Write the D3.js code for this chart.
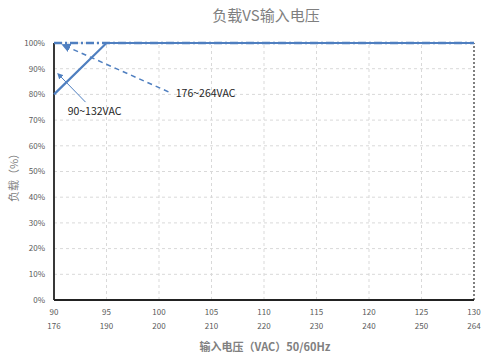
<!DOCTYPE html>
<html>
<head>
<meta charset="utf-8">
<script src="https://cdn.jsdelivr.net/npm/d3@7"></script>
<style>
  body { margin: 0; background: #fff; }
  text { font-family: "Microsoft YaHei", "Noto Sans CJK SC", "DejaVu Sans", sans-serif; }
</style>
</head>
<body>
<div id="chart"></div>
<script>
// tick labels
const xTicksLow = [90, 95, 100, 105, 110, 115, 120, 125, 130];
const xTicksHigh = [176, 190, 200, 210, 220, 230, 240, 250, 264];
const yTicks = [0, 10, 20, 30, 40, 50, 60, 70, 80, 90, 100];

// 90~132VAC series (primary axis)
const lowVolt = [90, 95, 130];
const lowLoad = [80, 100, 100];

// 176~264VAC series (secondary axis)
const highVolt = [176, 264];
const highLoad = [100, 100];

// annotation arrows [x0, y0, x1, y1] on primary axis
const lowArrow = [93.0, 77.0, 90.5, 87.5];
const highArrow = [100.9, 81, 91.1, 98.8];

const width = 489, height = 359;
const margin = {left: 54, right: 15, top: 43, bottom: 59};
const blue = '#4f7fc0';
const grey = '#595959';

const svg = d3.select('#chart').append('svg')
  .attr('width', width)
  .attr('height', height);

const x = d3.scaleLinear().domain([90, 130]).range([margin.left, width - margin.right]);
const x2 = d3.scaleLinear().domain(xTicksHigh).range(xTicksLow.map(x));
const y = d3.scaleLinear().domain([0, 100]).range([height - margin.bottom, margin.top]);

svg.append('defs').append('marker')
  .attr('id', 'arrow')
  .attr('viewBox', '0 0 10 10')
  .attr('refX', 5).attr('refY', 5)
  .attr('markerWidth', 6).attr('markerHeight', 6)
  .attr('orient', 'auto')
  .append('path')
  .attr('d', 'M0,0 L10,5 L0,10 z')
  .attr('fill', blue);

// grid
svg.append('g').selectAll('line')
  .data(yTicks.filter(d => d > 0))
  .join('line')
  .attr('x1', x(90)).attr('x2', x(130))
  .attr('y1', d => y(d)).attr('y2', d => y(d))
  .attr('stroke', '#d9d9d9')
  .attr('stroke-dasharray', '3,3');

svg.append('g').selectAll('line')
  .data(xTicksLow.slice(1, -1))
  .join('line')
  .attr('x1', d => x(d)).attr('x2', d => x(d))
  .attr('y1', y(0)).attr('y2', y(100))
  .attr('stroke', '#d9d9d9')
  .attr('stroke-dasharray', '3,3');

// right border dotted
svg.append('line')
  .attr('x1', x(130)).attr('x2', x(130))
  .attr('y1', y(0)).attr('y2', y(100))
  .attr('stroke', '#555')
  .attr('stroke-width', 1.5)
  .attr('stroke-dasharray', '2,2');

// axes lines
svg.append('line')
  .attr('x1', x(90)).attr('x2', x(90))
  .attr('y1', y(0)).attr('y2', y(100))
  .attr('stroke', '#222').attr('stroke-width', 1.8);
svg.append('line')
  .attr('x1', x(90)).attr('x2', x(130))
  .attr('y1', y(0)).attr('y2', y(0))
  .attr('stroke', '#222').attr('stroke-width', 1.8);

// y tick labels
svg.append('g').selectAll('text')
  .data(yTicks)
  .join('text')
  .attr('x', margin.left - 9)
  .attr('y', d => y(d))
  .attr('dy', '0.35em')
  .attr('text-anchor', 'end')
  .attr('font-size', 8)
  .attr('fill', grey)
  .text(d => d + '%');

// x tick labels, two rows
svg.append('g').selectAll('text')
  .data(xTicksLow)
  .join('text')
  .attr('x', d => x(d))
  .attr('y', 315)
  .attr('text-anchor', 'middle')
  .attr('font-size', 8)
  .attr('fill', grey)
  .text(d => d);

svg.append('g').selectAll('text')
  .data(xTicksHigh)
  .join('text')
  .attr('x', d => x2(d))
  .attr('y', 329)
  .attr('text-anchor', 'middle')
  .attr('font-size', 8)
  .attr('fill', grey)
  .text(d => d);

// series
const highData = highVolt.map((v, i) => [x2(v), y(highLoad[i])]);
svg.append('path')
  .attr('d', d3.line()(highData))
  .attr('fill', 'none')
  .attr('stroke', blue)
  .attr('stroke-width', 2.5)
  .attr('stroke-dasharray', '8,3,2,3');

const lowData = lowVolt.map((v, i) => [x(v), y(lowLoad[i])]);
svg.append('path')
  .attr('d', d3.line()(lowData))
  .attr('fill', 'none')
  .attr('stroke', blue)
  .attr('stroke-width', 2.2);

// annotations
svg.append('line')
  .attr('x1', x(highArrow[0])).attr('y1', y(highArrow[1]))
  .attr('x2', x(highArrow[2])).attr('y2', y(highArrow[3]))
  .attr('stroke', blue).attr('stroke-width', 1.5)
  .attr('stroke-dasharray', '5,4')
  .attr('marker-end', 'url(#arrow)');

svg.append('line')
  .attr('x1', x(lowArrow[0])).attr('y1', y(lowArrow[1]))
  .attr('x2', x(lowArrow[2])).attr('y2', y(lowArrow[3]))
  .attr('stroke', blue).attr('stroke-width', 1)
  .attr('marker-end', 'url(#arrow)');

svg.append('text')
  .attr('x', x(101.6)).attr('y', y(80.5))
  .attr('dy', '0.35em')
  .attr('font-size', 10.5)
  .attr('fill', '#262626')
  .text('176~264VAC');

svg.append('text')
  .attr('x', x(91.3)).attr('y', y(73.5))
  .attr('dy', '0.35em')
  .attr('font-size', 10.5)
  .attr('fill', '#262626')
  .text('90~132VAC');

// titles
svg.append('text')
  .attr('x', 266).attr('y', 21)
  .attr('text-anchor', 'middle')
  .attr('font-size', 15)
  .attr('fill', '#7f7f7f')
  .text('负载VS输入电压');

svg.append('text')
  .attr('x', 265).attr('y', 351)
  .attr('text-anchor', 'middle')
  .attr('font-size', 11)
  .attr('font-weight', 'bold')
  .attr('fill', '#808080')
  .text('输入电压（VAC）50/60Hz');

svg.append('text')
  .attr('transform', 'translate(14,175) rotate(-90)')
  .attr('text-anchor', 'middle')
  .attr('dy', '0.35em')
  .attr('font-size', 11)
  .attr('fill', '#7f7f7f')
  .text('负载（%）');
</script>
</body>
</html>
